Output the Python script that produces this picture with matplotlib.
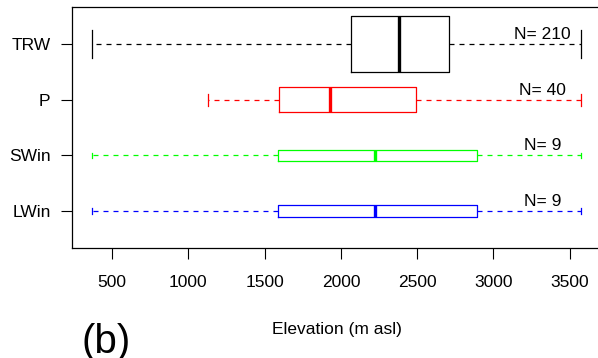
import matplotlib
matplotlib.use('Agg')
import matplotlib.pyplot as plt
import numpy as np

#---------------------Set matplotlib-------------------------
plt.rcParams['font.family'] = 'Liberation Sans'
plt.rcParams['font.size'] = 12.5

#---------------------Datos por grupo------------------------
grupos = ['TRW', 'P', 'SWin', 'LWin']
n_obs = [210, 40, 9, 9]
colores = ['black', '#FF0000', '#00FF00', '#0000FF']
# estadisticos de las cajas, elevacion en m s.n.m.
bigote_inf = [365, 1127, 365, 365]
q1 = [2069, 1595, 1588, 1588]
mediana = [2381, 1929, 2226, 2226]
q3 = [2711, 2491, 2892, 2892]
bigote_sup = [3577, 3577, 3577, 3577]

#---------------------Plot-----------------------------------
pos = [4, 3, 2, 1]  # TRW arriba
anchos = [np.sqrt(n / max(n_obs)) for n in n_obs]  # ancho proporcional a sqrt(N)

stats = []
for i in range(len(grupos)):
    stats.append({'label': grupos[i], 'whislo': bigote_inf[i], 'q1': q1[i],
                  'med': mediana[i], 'q3': q3[i], 'whishi': bigote_sup[i],
                  'fliers': []})

fig = plt.figure(figsize=(5.98, 3.58), dpi=100)
ax = fig.add_axes([72/598, 110/358, 529/598, 241/358])

bp = ax.bxp(stats, positions=pos, widths=anchos,
            capwidths=[w/2 for w in anchos], orientation='horizontal',
            showfliers=False, manage_ticks=False)

for i, c in enumerate(colores):
    bp['boxes'][i].set(color=c, linewidth=0.9)
    bp['medians'][i].set(color=c, linewidth=2.4, solid_capstyle='butt')
    for j in (2*i, 2*i+1):
        bp['whiskers'][j].set(color=c, linewidth=0.9, linestyle=(0, (4, 4)))
        bp['caps'][j].set(color=c, linewidth=0.9)
    # numero de datos sobre el bigote
    ax.text(3320, pos[i] + 0.17, 'N= ' + str(n_obs[i]), ha='center', va='center')

ax.set_xlim(236.5, 3705.5)
ax.set_ylim(0.34, 4.66)
ax.set_xticks(np.arange(500, 3501, 500))
ax.set_yticks(pos)
ax.set_yticklabels(grupos)
ax.tick_params(axis='x', length=8, width=0.8, pad=11.5)
ax.tick_params(axis='y', length=8, width=0.8, pad=7.4)
for s in ax.spines.values():
    s.set_linewidth(0.9)

fig.text(336.5/598, 24/358, 'Elevation (m asl)', ha='center', va='baseline')
fig.text(81/598, 5.3/358, '(b)', fontsize=29, ha='left', va='baseline')

plt.savefig('out.png', dpi=100)
plt.close(fig)
